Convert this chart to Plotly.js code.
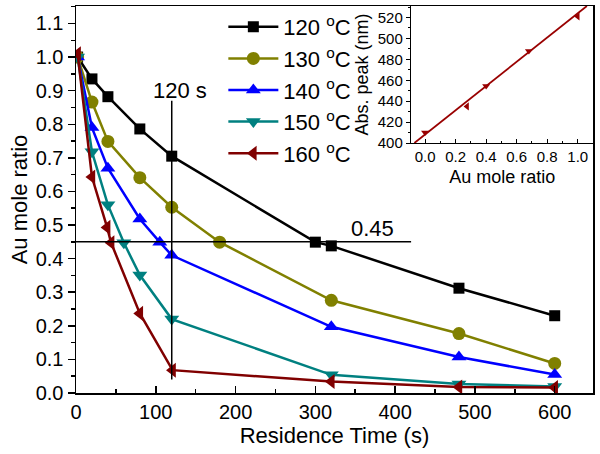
<!DOCTYPE html>
<html><head><meta charset="utf-8">
<script src="https://cdn.plot.ly/plotly-3.0.1.min.js"></script>
<style>html,body{margin:0;padding:0;background:#fff;}#chart{width:600px;height:454px;}</style>
</head><body><div id="chart"></div>
<script>
// Main chart data: residence time (s) vs Au mole ratio
const t120 = [2, 20, 40, 80, 120, 300, 320, 480, 600];
const r120 = [1.0, 0.935, 0.882, 0.786, 0.705, 0.449, 0.438, 0.312, 0.23];
const t130 = [2, 20, 40, 80, 120, 180, 320, 480, 600];
const r130 = [1.0, 0.866, 0.749, 0.641, 0.553, 0.449, 0.276, 0.177, 0.088];
const t140 = [2, 20, 40, 80, 105, 120, 320, 480, 600];
const r140 = [1.0, 0.79, 0.669, 0.518, 0.449, 0.41, 0.197, 0.107, 0.055];
const t150 = [2, 20, 40, 60, 80, 120, 320, 480, 600];
const r150 = [1.0, 0.718, 0.56, 0.447, 0.351, 0.22, 0.054, 0.027, 0.019];
const t160 = [2, 20, 39, 44, 80, 121, 320, 480, 600];
const r160 = [1.01, 0.643, 0.493, 0.447, 0.237, 0.068, 0.034, 0.018, 0.016];
const seriesNames = ['120 <sup>o</sup>C', '130 <sup>o</sup>C', '140 <sup>o</sup>C', '150 <sup>o</sup>C', '160 <sup>o</sup>C'];
const xTicks = [0, 100, 200, 300, 400, 500, 600];
const yTicks = [0.0, 0.1, 0.2, 0.3, 0.4, 0.5, 0.6, 0.7, 0.8, 0.9, 1.0, 1.1];

// Reference markers
const refTime = 120;            // vertical line at 120 s
const refTimeSpan = [0.04, 0.87];
const refRatio = 0.45;          // horizontal line at 0.45
const refRatioSpan = [0, 420];
const refTimeLabel = '120 s';
const refRatioLabel = '0.45';

// Inset: Au mole ratio vs absorption peak
const insetRatio = [0.0, 0.275, 0.4, 0.68, 1.0];
const insetPeak = [410, 435, 454.5, 488, 521];
const fitRatio = [-0.07, 1.06];
const fitPeak = [400, 531];
const insetXTicks = [0.0, 0.2, 0.4, 0.6, 0.8, 1.0];
const insetYTicks = [400, 420, 440, 460, 480, 500, 520];

const colors = ['#000000', '#808000', '#0000ff', '#008080', '#800000'];
const symbols = ['square', 'circle', 'triangle-up', 'triangle-down', 'triangle-left'];
const sizes = [11, 13, 13, 13, 13];
const T = [t120, t130, t140, t150, t160];
const R = [r120, r130, r140, r150, r160];

const font = 'Liberation Sans, Arial, sans-serif';
const traces = [];
for (let i = 0; i < 5; i++) {
  traces.push({
    x: T[i], y: R[i], type: 'scatter', mode: 'lines+markers', name: seriesNames[i],
    legendgroup: 'g' + i,
    line: {color: colors[i], width: 2.5},
    marker: {symbol: symbols[i], size: sizes[i], color: colors[i]},
    xaxis: 'x', yaxis: 'y'
  });
}
traces.push({x: [refTime, refTime], y: refTimeSpan, mode: 'lines', line: {color: '#000', width: 1.5}, showlegend: false, hoverinfo: 'skip'});
traces.push({x: refRatioSpan, y: [refRatio, refRatio], mode: 'lines', line: {color: '#000', width: 1.5}, showlegend: false, hoverinfo: 'skip'});
// inset
traces.push({x: fitRatio, y: fitPeak, mode: 'lines', line: {color: '#990000', width: 1.8}, xaxis: 'x2', yaxis: 'y2', showlegend: false, cliponaxis: true});
traces.push({x: insetRatio, y: insetPeak, mode: 'markers', marker: {symbol: ['triangle-down', 'triangle-left', 'triangle-down', 'triangle-down', 'triangle-left'], size: 7, color: '#990000'}, xaxis: 'x2', yaxis: 'y2', showlegend: false});

const layout = {
  width: 600, height: 454,
  margin: {l: 75.5, r: 7, t: 6, b: 61},
  paper_bgcolor: '#fff', plot_bgcolor: '#fff',
  font: {family: font, color: '#000'},
  showlegend: true,
  legend: {x: 0.285, y: 1.0, xanchor: 'left', yanchor: 'top', font: {size: 22, family: font}, bgcolor: 'rgba(0,0,0,0)', tracegroupgap: 0, traceorder: 'grouped', itemwidth: 50},
  xaxis: {
    domain: [0, 1], range: [0, 648], tickvals: xTicks, ticks: 'inside', ticklen: 7, tickwidth: 1.5, tickcolor: '#000',
    showline: true, linewidth: 1.5, linecolor: '#000', mirror: true, showgrid: false, zeroline: false,
    tickfont: {size: 20, family: font},
    minor: {dtick: 50, ticks: 'inside', ticklen: 4, tickwidth: 1.5, tickcolor: '#000', showgrid: false},
    title: {text: 'Residence Time (s)', font: {size: 22, family: font}, standoff: 6}
  },
  yaxis: {
    domain: [0, 1], range: [0, 1.152], tickvals: yTicks, tickformat: '.1f', ticks: 'outside', ticklen: 7, tickwidth: 1.5, tickcolor: '#000',
    showline: true, linewidth: 1.5, linecolor: '#000', mirror: true, showgrid: false, zeroline: false,
    tickfont: {size: 20, family: font},
    minor: {dtick: 0.05, ticks: 'outside', ticklen: 4, tickwidth: 1.5, tickcolor: '#000', showgrid: false},
    title: {text: 'Au mole ratio', font: {size: 22, family: font}, standoff: 2}
  },
  xaxis2: {
    domain: [0.6486, 1], anchor: 'y2', range: [-0.09, 1.1], tickvals: insetXTicks, tickformat: '.1f', ticks: 'inside', ticklen: 4, tickwidth: 1, tickcolor: '#000',
    showline: true, linewidth: 1.5, linecolor: '#000', mirror: true, showgrid: false, zeroline: false,
    tickfont: {size: 15, family: font},
    minor: {dtick: 0.1, ticks: 'inside', ticklen: 2, tickwidth: 1, tickcolor: '#000', showgrid: false},
    title: {text: 'Au mole ratio', font: {size: 18, family: font}, standoff: 6}
  },
  yaxis2: {
    domain: [0.646, 1], anchor: 'x2', range: [400, 531], tickvals: insetYTicks, ticks: 'outside', ticklen: 4, tickwidth: 1, tickcolor: '#000',
    showline: true, linewidth: 1.5, linecolor: '#000', mirror: true, showgrid: false, zeroline: false,
    tickfont: {size: 15, family: font},
    minor: {dtick: 10, ticks: 'outside', ticklen: 2, tickwidth: 1, tickcolor: '#000', showgrid: false},
    title: {text: 'Abs. peak (nm)', font: {size: 18, family: font}, standoff: 4}
  },
  annotations: [
    {x: 130, y: 0.899, xref: 'x', yref: 'y', text: refTimeLabel, showarrow: false, font: {size: 22, family: font}},
    {x: 372, y: 0.491, xref: 'x', yref: 'y', text: refRatioLabel, showarrow: false, font: {size: 22, family: font}}
  ]
};
Plotly.newPlot('chart', traces, layout, {displayModeBar: false, staticPlot: true});
</script></body></html>
